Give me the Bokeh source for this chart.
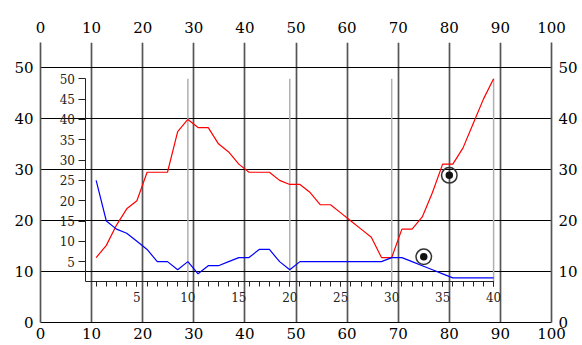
from bokeh.plotting import figure
from bokeh.models import Range1d, LinearAxis, FixedTicker, Grid
from bokeh.embed import file_html
from bokeh.resources import INLINE

# ---- data ----
x_inner = list(range(1, 41))
red_values = [6, 9, 14, 18, 20, 27, 27, 27, 37, 40,
              38, 38, 34, 32, 29, 27, 27, 27, 25, 24,
              24, 22, 19, 19, 17, 15, 13, 11, 6, 6,
              13, 13, 16, 22, 29, 29, 33, 39, 45, 50]
blue_values = [25, 15, 13, 12, 10, 8, 5, 5, 3, 5,
               2, 4, 4, 5, 6, 6, 8, 8, 5, 3,
               5, 5, 5, 5, 5, 5, 5, 5, 5, 6,
               6, 5, 4, 3, 2, 1, 1, 1, 1, 1]

outer_x_ticks = [0, 10, 20, 30, 40, 50, 60, 70, 80, 90, 100]
outer_y_ticks = [0, 10, 20, 30, 40, 50]
inner_x_major = [5, 10, 15, 20, 25, 30, 35, 40]
inner_x_minor = list(range(1, 41))
inner_y_ticks = [5, 10, 15, 20, 25, 30, 35, 40, 45, 50]
inner_grid_x = [10, 20, 30, 40]
inner_grid_bottom = [0, 0, 0, 0]
inner_grid_top = [50, 50, 50, 50]

marker_x = [75, 80]
marker_y = [12.9, 28.9]

FONT = "DejaVu Serif"
VGRID = "#555555"

p = figure(width=582, height=345, output_backend="svg", toolbar_location=None,
           x_range=Range1d(0, 100), y_range=Range1d(0, 55),
           min_border_left=40, min_border_right=31, min_border_top=42, min_border_bottom=23,
           x_axis_location=None, y_axis_location=None)
p.outline_line_color = None
p.background_fill_color = "white"
p.border_fill_color = "white"

p.extra_x_ranges = {"ix": Range1d(-4.46, 45.68)}
p.extra_y_ranges = {"iy": Range1d(-9.98, 58.94)}

# outer grids
p.add_layout(Grid(dimension=0, ticker=FixedTicker(ticks=outer_x_ticks),
                  grid_line_color=VGRID, grid_line_width=1.7))
p.add_layout(Grid(dimension=1, ticker=FixedTicker(ticks=outer_y_ticks),
                  grid_line_color="black", grid_line_width=1))

def style_outer(ax, standoff, line_color, line_width):
    ax.axis_line_color = line_color
    ax.axis_line_width = line_width
    ax.major_tick_line_color = None
    ax.minor_tick_line_color = None
    ax.major_tick_out = 0
    ax.major_tick_in = 0
    ax.minor_tick_out = 0
    ax.major_label_standoff = standoff
    ax.major_label_text_font = FONT
    ax.major_label_text_font_size = "15px"
    ax.major_label_text_color = "black"

ax = LinearAxis(ticker=FixedTicker(ticks=outer_x_ticks))
style_outer(ax, 5, "black", 1)
p.add_layout(ax, "below")
ax = LinearAxis(ticker=FixedTicker(ticks=outer_x_ticks))
style_outer(ax, 10, None, 1)
p.add_layout(ax, "above")
for side in ("left", "right"):
    ax = LinearAxis(ticker=FixedTicker(ticks=outer_y_ticks))
    style_outer(ax, 7, VGRID, 1.7)
    p.add_layout(ax, side)

# inner grid (vertical light grey, from 0 to 50)
p.segment(x0=inner_grid_x, y0=inner_grid_bottom, x1=inner_grid_x, y1=inner_grid_top,
          x_range_name="ix", y_range_name="iy", line_color="#b0b0b0", line_width=1.5)

# inner axes at fixed location
iy_ax = LinearAxis(ticker=FixedTicker(ticks=inner_y_ticks), fixed_location=0,
                   x_range_name="ix", y_range_name="iy", bounds=(0, 50))
iy_ax.axis_line_color = "#222222"
iy_ax.major_tick_line_color = "#222222"
iy_ax.major_tick_out = 7
iy_ax.major_tick_in = 0
iy_ax.minor_tick_line_color = None
iy_ax.major_label_standoff = 4
iy_ax.major_label_text_font = FONT
iy_ax.major_label_text_font_size = "12px"
iy_ax.major_label_text_color = "#222222"
p.add_layout(iy_ax, "left")

ix_ax = LinearAxis(ticker=FixedTicker(ticks=inner_x_major, minor_ticks=inner_x_minor),
                   fixed_location=0, x_range_name="ix", y_range_name="iy", bounds=(0, 40))
ix_ax.axis_line_color = "#222222"
ix_ax.major_tick_line_color = "#222222"
ix_ax.minor_tick_line_color = "#222222"
ix_ax.major_tick_out = 5
ix_ax.major_tick_in = 0
ix_ax.minor_tick_out = 5
ix_ax.minor_tick_in = 0
ix_ax.major_label_standoff = 5
ix_ax.major_label_text_font = FONT
ix_ax.major_label_text_font_size = "12px"
ix_ax.major_label_text_color = "#222222"
p.add_layout(ix_ax, "below")

# data lines
p.line(x_inner, red_values, x_range_name="ix", y_range_name="iy",
       line_color="#ff0000", line_width=1.2)
p.line(x_inner, blue_values, x_range_name="ix", y_range_name="iy",
       line_color="#0000ff", line_width=1.2)

# circled markers
p.scatter(marker_x, marker_y, size=15.5, fill_color=None,
          line_color="#333333", line_width=1.5)
p.scatter(marker_x, marker_y, size=7.5, fill_color="#111111", line_color=None)

open("out.html", "w").write(file_html(p, INLINE))
